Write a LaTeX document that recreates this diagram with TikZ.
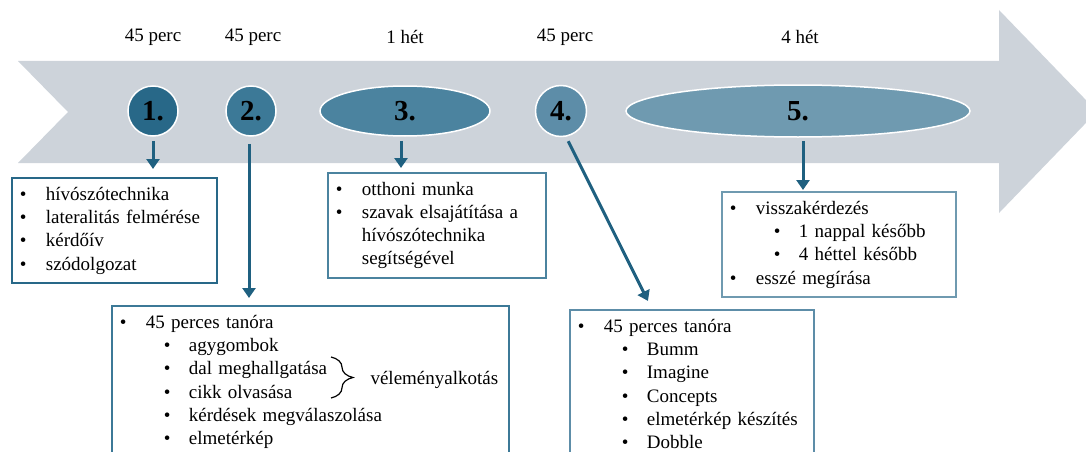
\documentclass[tikz,border=0pt]{standalone}
\usepackage{fontspec}
\setmainfont{Liberation Serif}
\usetikzlibrary{shapes.geometric,arrows.meta,decorations.pathreplacing}

\definecolor{bandgray}{RGB}{205,211,218}
\definecolor{tealA}{RGB}{40,104,136}
\definecolor{tealB}{RGB}{60,121,151}
\definecolor{tealC}{RGB}{75,131,159}
\definecolor{tealD}{RGB}{93,141,168}
\definecolor{tealE}{RGB}{111,154,176}
\definecolor{linkcol}{RGB}{31,96,128}

\newcommand\itm[1]{\makebox[26pt][l]{\textbullet}#1}
\newcommand\subitm[1]{\hspace*{44pt}\makebox[25pt][l]{\textbullet}#1}

\tikzset{
  stage/.style={draw=white, line width=1.5pt, inner sep=0pt,
    font=\fontsize{29}{29}\selectfont\bfseries},
  dur/.style={font=\fontsize{19}{23}\selectfont},
  infobox/.style={draw, line width=1.8pt, fill=white, anchor=north west,
    inner xsep=8pt, inner ysep=9pt, align=left,
    font=\fontsize{19}{23.3}\selectfont},
  link/.style={draw=linkcol, line width=3pt, -{Triangle[width=13pt,length=10pt]}},
}

\begin{document}
\begin{tikzpicture}[x=1pt, y=-1pt]
    \useasboundingbox (0,0) rectangle (1086,452);
    \clip (0,0) rectangle (1086,452);

    % Timeline arrow
    \fill[bandgray] (18,61) -- (999,61) -- (999,10) -- (1097,111.5) -- (999,213)
        -- (999,163) -- (18,163) -- (68,112) -- cycle;

    % Durations
    \node[dur] (d1) at (153,37) {45 perc};
    \node[dur] (d2) at (253,37) {45 perc};
    \node[dur] (d3) at (405,37) {1 hét};
    \node[dur] (d4) at (565,37) {45 perc};
    \node[dur] (d5) at (800,37) {4 hét};

    % Stages
    \node[stage, circle, fill=tealA, minimum size=50pt] (s1) at (153,111) {1.};
    \node[stage, circle, fill=tealB, minimum size=50pt] (s2) at (251,111) {2.};
    \node[stage, ellipse, fill=tealC, minimum width=170pt, minimum height=50pt] (s3) at (405,111) {3.};
    \node[stage, circle, fill=tealD, minimum size=51pt] (s4) at (561,111) {4.};
    \node[stage, ellipse, fill=tealE, minimum width=344pt, minimum height=52pt] (s5) at (798,111) {5.};

    % Boxes
    \node[infobox, draw=tealA, text width=189pt, minimum height=100pt] (b1) at (11,177)
        {\itm{hívószótechnika}\\ \itm{lateralitás felmérése}\\ \itm{kérdőív}\\ \itm{szódolgozat}};
    \node[infobox, draw=tealB, text width=381pt] (b2) at (111,305)
        {\itm{45 perces tanóra}\\ \subitm{agygombok}\\ \subitm{dal meghallgatása}\\
         \subitm{cikk olvasása}\\ \subitm{kérdések megválaszolása}\\ \subitm{elmetérkép}};
    \node[infobox, draw=tealC, text width=202pt, minimum height=101pt] (b3) at (327,172)
        {\itm{otthoni munka}\\ \itm{szavak elsajátítása a}\\ \hspace*{26pt}hívószótechnika\\
         \hspace*{26pt}segítségével};
    \node[infobox, draw=tealD, text width=228pt] (b4) at (569,309)
        {\itm{45 perces tanóra}\\ \subitm{Bumm}\\ \subitm{Imagine}\\ \subitm{Concepts}\\
         \subitm{elmetérkép készítés}\\ \subitm{Dobble}};
    \node[infobox, draw=tealE, text width=218pt, minimum height=103pt] (b5) at (721,191)
        {\itm{visszakérdezés}\\ \subitm{1 nappal később}\\ \subitm{4 héttel később}\\ \itm{esszé megírása}};

    % Opinion brace
    \draw[decorate, decoration={brace, amplitude=22pt}, line width=1.2pt] (331,357) -- (331,398);
    \node[dur, anchor=west] (op) at (367,380) {véleményalkotás};

    % Links
    \draw[link, shorten <=4pt, shorten >=8pt] (s1.south) -- (s1.south |- b1.north);
    \draw[link, shorten <=7pt, shorten >=7pt] ([xshift=-2pt]s2.south) -- ([xshift=-2pt]s2.south |- b2.north);
    \draw[link, shorten <=4pt, shorten >=4pt] ([xshift=-4pt]s3.south) -- ([xshift=-4pt]s3.south |- b3.north);
    \draw[link, shorten <=5pt, shorten >=9pt] (s4.-79) -- ([xshift=83pt]b4.north west);
    \draw[link, shorten <=3pt, shorten >=1pt] ([xshift=5pt]s5.south) -- ([xshift=5pt]s5.south |- b5.north);
\end{tikzpicture}
\end{document}
